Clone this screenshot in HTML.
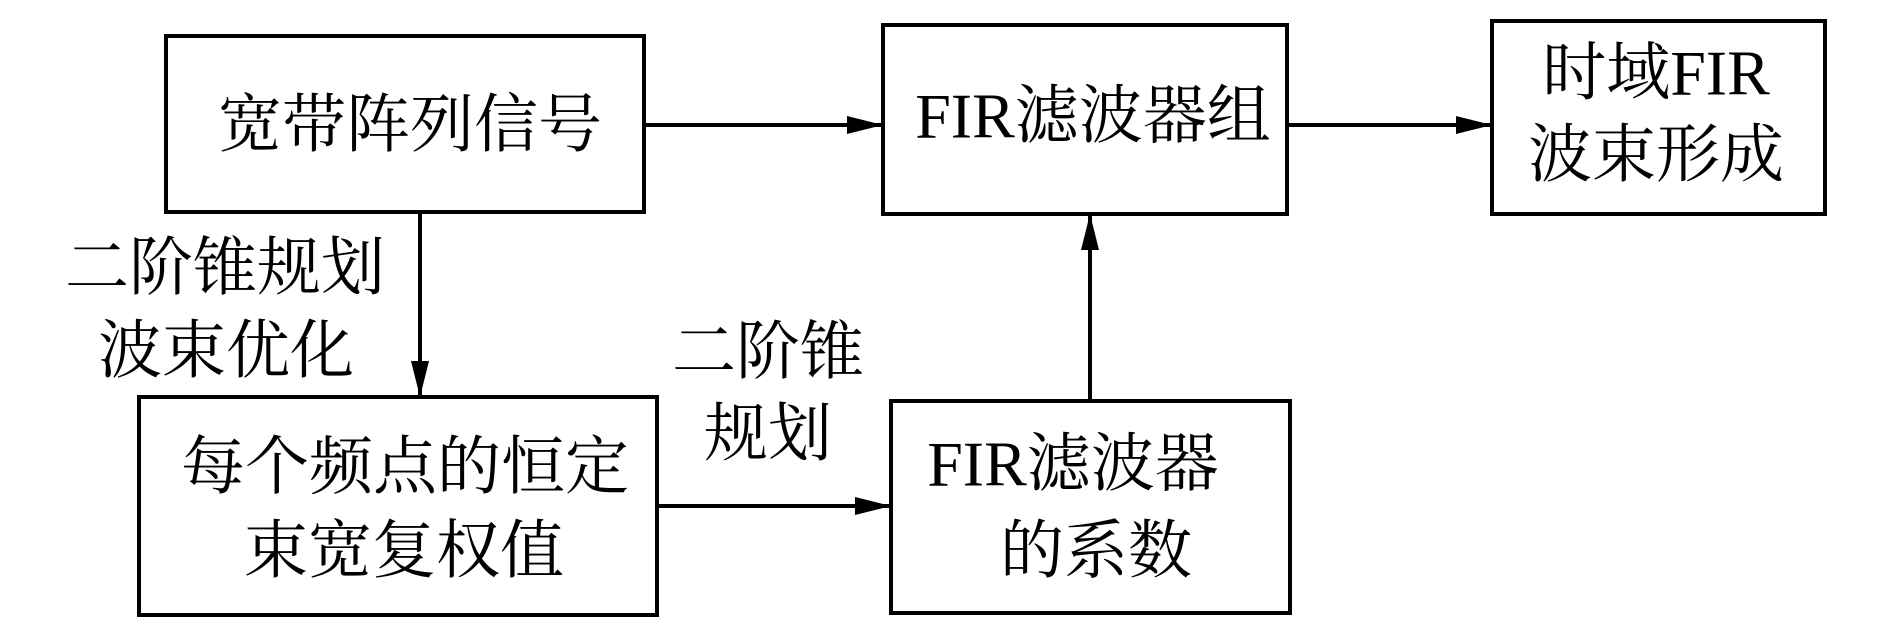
<!DOCTYPE html>
<html><head><meta charset="utf-8"><style>
html,body{margin:0;padding:0;background:#fff;}
svg{display:block;}
text{font-family:"Liberation Serif","Noto Serif CJK SC",serif;font-size:64px;fill:#000;}
</style></head><body>
<svg width="1890" height="638" viewBox="0 0 1890 638" xmlns="http://www.w3.org/2000/svg">
<defs>
<marker id="a" markerWidth="36" markerHeight="18" refX="36" refY="9" orient="auto" markerUnits="userSpaceOnUse">
<path d="M0,0 L36,9 L0,18 Z" fill="#000"/>
</marker>
</defs>
<g fill="none" stroke="#000" stroke-width="4">
<rect x="166" y="36" width="478" height="176"/>
<rect x="883" y="25" width="404" height="189"/>
<rect x="1492" y="21" width="333" height="193"/>
<rect x="139" y="397" width="518" height="218"/>
<rect x="891" y="401" width="399" height="212"/>
<line x1="644" y1="125" x2="883" y2="125" marker-end="url(#a)"/>
<line x1="1287" y1="125" x2="1492" y2="125" marker-end="url(#a)"/>
<line x1="420" y1="212" x2="420" y2="397" marker-end="url(#a)"/>
<line x1="657" y1="506" x2="891" y2="506" marker-end="url(#a)"/>
<line x1="1090" y1="401" x2="1090" y2="214" marker-end="url(#a)"/>
</g>
<g text-anchor="middle" dominant-baseline="central">
<text x="410" y="125">宽带阵列信号</text>
<text x="1093" y="116">FIR滤波器组</text>
<text x="1656" y="73">时域FIR</text>
<text x="1656" y="155">波束形成</text>
<text x="405" y="467">每个频点的恒定</text>
<text x="404" y="551">束宽复权值</text>
<text x="1073" y="464">FIR滤波器</text>
<text x="1096" y="551">的系数</text>
<text x="225" y="268">二阶锥规划</text>
<text x="226" y="351">波束优化</text>
<text x="768" y="352">二阶锥</text>
<text x="768" y="434">规划</text>
</g>
</svg>
</body></html>
